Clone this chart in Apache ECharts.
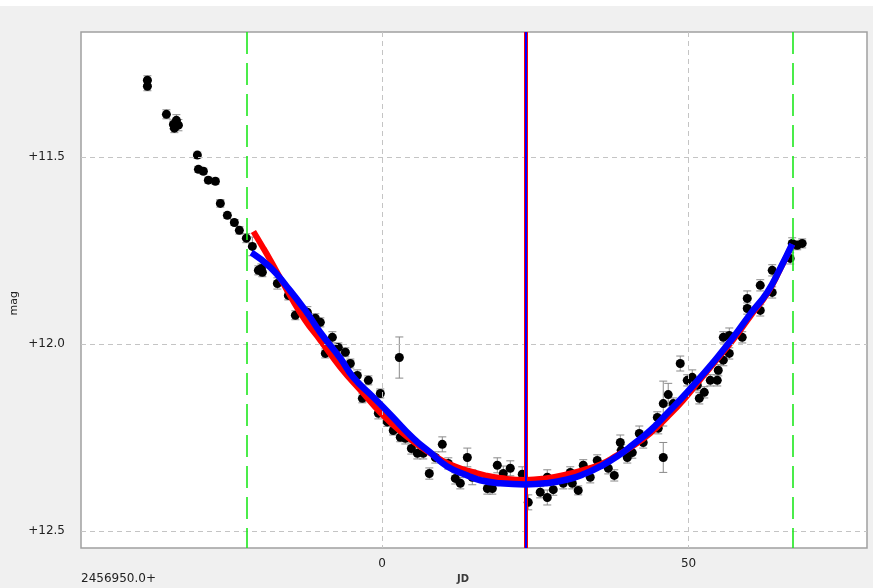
<!DOCTYPE html>
<html>
<head>
<meta charset="utf-8">
<script src="https://cdn.jsdelivr.net/npm/echarts@6/dist/echarts.min.js"></script>
<style>html,body{margin:0;padding:0;background:#f0f0f0;}#c{width:873px;height:588px;}</style>
</head>
<body>
<div id="c"></div>
<script>
// Observations: JD offset (days from 2456950.0), magnitude, error
const jd = [-38.27,-38.27,-35.17,-34.03,-33.54,-33.87,-33.21,-30.12,-29.95,-29.14,-28.33,-27.18,-26.37,-25.23,-24.09,-23.27,-22.13,-21.15,-20.17,-19.68,-19.52,-17.07,-15.28,-14.14,-12.18,-10.88,-10.06,-9.25,-8.10,-7.13,-5.98,-5.17,-4.03,-3.21,-2.23,-0.28,-0.60,0.86,1.83,2.82,2.98,3.80,4.78,5.76,6.73,7.71,8.69,9.83,10.81,11.95,12.77,13.91,14.72,17.18,17.99,18.80,19.78,20.92,22.87,23.85,25.80,26.95,27.93,26.95,29.56,31.03,32.00,30.70,32.82,33.96,35.10,36.90,37.88,38.86,39.02,40.00,40.82,41.96,42.60,44.90,45.05,45.87,45.87,46.68,47.50,48.64,49.78,50.60,51.42,51.75,52.56,53.54,54.68,54.84,55.66,56.64,55.66,56.64,58.75,59.57,59.57,61.69,61.69,63.64,63.64,66.57,66.90,67.72,68.53];
const mag = [11.295,11.311,11.386,11.413,11.402,11.423,11.415,11.495,11.533,11.538,11.562,11.565,11.624,11.656,11.675,11.696,11.717,11.739,11.803,11.798,11.808,11.838,11.870,11.923,11.915,11.931,11.942,12.025,11.982,12.009,12.022,12.052,12.084,12.145,12.097,12.132,12.185,12.208,12.231,12.036,12.249,12.252,12.279,12.292,12.292,12.346,12.303,12.268,12.319,12.359,12.372,12.303,12.356,12.386,12.386,12.324,12.346,12.332,12.348,12.423,12.396,12.410,12.389,12.356,12.372,12.372,12.391,12.343,12.324,12.356,12.311,12.332,12.351,12.263,12.284,12.303,12.290,12.239,12.263,12.196,12.225,12.303,12.159,12.135,12.159,12.052,12.097,12.089,12.110,12.145,12.129,12.097,12.097,12.070,12.043,12.025,11.982,11.977,11.982,11.878,11.905,11.910,11.843,11.862,11.803,11.771,11.731,11.736,11.731];
const err = [0.012,0.012,0.012,0.012,0.015,0.012,0.015,0.008,0.008,0.008,0.008,0.008,0.010,0.008,0.008,0.010,0.012,0.025,0.012,0.012,0.012,0.015,0.012,0.012,0.015,0.012,0.012,0.012,0.015,0.012,0.012,0.012,0.015,0.012,0.012,0.012,0.015,0.012,0.012,0.055,0.012,0.015,0.015,0.015,0.015,0.015,0.015,0.020,0.015,0.015,0.015,0.025,0.020,0.015,0.015,0.020,0.020,0.020,0.020,0.020,0.015,0.020,0.015,0.020,0.015,0.015,0.012,0.015,0.015,0.015,0.015,0.015,0.015,0.020,0.015,0.015,0.015,0.020,0.015,0.015,0.015,0.040,0.060,0.030,0.015,0.020,0.015,0.020,0.015,0.015,0.015,0.015,0.015,0.015,0.015,0.015,0.015,0.020,0.015,0.020,0.015,0.015,0.015,0.015,0.015,0.015,0.015,0.012,0.012];

// Fit curves
const redJD  = [-20.98,-19.52,-18.21,-16.58,-14.95,-12.51,-10.06,-6.80,-3.05,-0.28,2.98,6.25,8.69,11.14,13.91,16.84,19.29,23.37,26.63,30.22,33.15,35.60,38.37,40.98,43.75,46.52,49.13,51.90,54.67,57.28,60.05,62.82,64.94,66.90];
const redMag = [11.699,11.739,11.776,11.824,11.872,11.937,11.990,12.062,12.132,12.183,12.233,12.274,12.300,12.322,12.338,12.351,12.358,12.363,12.359,12.348,12.335,12.322,12.297,12.272,12.238,12.195,12.150,12.095,12.040,11.988,11.926,11.865,11.800,11.734];
const blueJD  = [-21.31,-18.21,-15.44,-12.51,-10.06,-6.80,-4.68,-1.42,1.35,5.10,7.88,10.65,13.91,16.03,19.29,23.37,26.63,30.22,33.15,35.60,38.37,40.98,43.75,46.52,49.13,51.90,54.67,57.28,60.05,62.82,64.94,66.90];
const blueMag = [11.755,11.795,11.848,11.910,11.969,12.038,12.089,12.142,12.188,12.252,12.290,12.327,12.351,12.364,12.372,12.375,12.372,12.362,12.346,12.327,12.300,12.268,12.231,12.185,12.140,12.089,12.036,11.982,11.920,11.862,11.798,11.733];

// Reference lines
const xGrid = [0, 50];
const yGrid = [11.5, 12.0, 12.5];
const greenLines = [-22.13, 66.95];
const maxLine = 23.48;

const chart = echarts.init(document.getElementById('c'));
const pts = jd.map((v, i) => [v, mag[i], err[i]]);
const font = 'DejaVu Sans';

const option = {
  backgroundColor: '#f0f0f0',
  animation: false,
  grid: { left: 81, right: 6, top: 32, bottom: 40, show: true, backgroundColor: '#ffffff', borderColor: '#a0a0a0', borderWidth: 1.5 },
  xAxis: {
    type: 'value', min: -49.1, max: 79.1,
    axisLine: { show: false }, axisTick: { show: false }, splitLine: { show: false },
    axisLabel: { customValues: xGrid, color: '#222', fontFamily: font, fontSize: 12, margin: 10 }
  },
  yAxis: {
    type: 'value', inverse: true, min: 11.166, max: 12.545,
    axisLine: { show: false }, axisTick: { show: false }, splitLine: { show: false },
    axisLabel: { customValues: yGrid, color: '#222', fontFamily: font, fontSize: 12, margin: 16,
      formatter: v => '+' + v.toFixed(1) }
  },
  graphic: [
    { type: 'rect', left: 0, top: 0, shape: { width: 873, height: 6 }, style: { fill: '#ffffff' }, silent: true },
    { type: 'text', left: 81, top: 573, style: { text: '2456950.0+', fill: '#222', font: '12px "DejaVu Sans"' } },
    { type: 'text', left: 457, top: 574, style: { text: 'JD', fill: '#3a3a3a', font: 'bold 10px "DejaVu Sans"' } },
    { type: 'text', left: 9, top: 291, rotation: Math.PI / 2, style: { text: 'mag', fill: '#222', font: '11px "DejaVu Sans"' } }
  ],
  series: [
    {
      type: 'custom', z: 2, data: pts, encode: { x: 0, y: 1 },
      renderItem: function (params, api) {
        const x = api.value(0), y = api.value(1), e = api.value(2);
        const a = api.coord([x, y - e]), b = api.coord([x, y + e]);
        const hw = 4, st = { stroke: '#8a8a8a', lineWidth: 1 };
        return { type: 'group', children: [
          { type: 'line', shape: { x1: a[0], y1: a[1], x2: b[0], y2: b[1] }, style: st },
          { type: 'line', shape: { x1: a[0] - hw, y1: a[1], x2: a[0] + hw, y2: a[1] }, style: st },
          { type: 'line', shape: { x1: b[0] - hw, y1: b[1], x2: b[0] + hw, y2: b[1] }, style: st }
        ] };
      },
      markLine: {
        silent: true, symbol: 'none', label: { show: false }, animation: false,
        lineStyle: { color: '#c4c4c4', type: [5, 4], width: 1 },
        data: xGrid.map(v => ({ xAxis: v })).concat(yGrid.map(v => ({ yAxis: v })))
      }
    },
    { type: 'scatter', z: 3, data: pts.map(p => [p[0], p[1]]), symbolSize: 9, itemStyle: { color: '#000', opacity: 1 } },
    { type: 'line', z: 4, data: redJD.map((v, i) => [v, redMag[i]]), smooth: true, showSymbol: false,
      lineStyle: { color: '#ff0000', width: 6 } },
    { type: 'line', z: 5, data: blueJD.map((v, i) => [v, blueMag[i]]), smooth: true, showSymbol: false,
      lineStyle: { color: '#0000ff', width: 6.5 },
      markLine: {
        silent: true, symbol: 'none', label: { show: false }, animation: false,
        data: greenLines.map(v => ({ xAxis: v, lineStyle: { color: '#1ee81e', type: [22, 9], width: 1.6 } }))
          .concat([
            { xAxis: maxLine, lineStyle: { color: '#ff0000', type: 'solid', width: 4 } },
            { xAxis: maxLine, lineStyle: { color: '#0000ff', type: 'solid', width: 2 } }
          ])
      }
    }
  ]
};
chart.setOption(option);
</script>
</body>
</html>
